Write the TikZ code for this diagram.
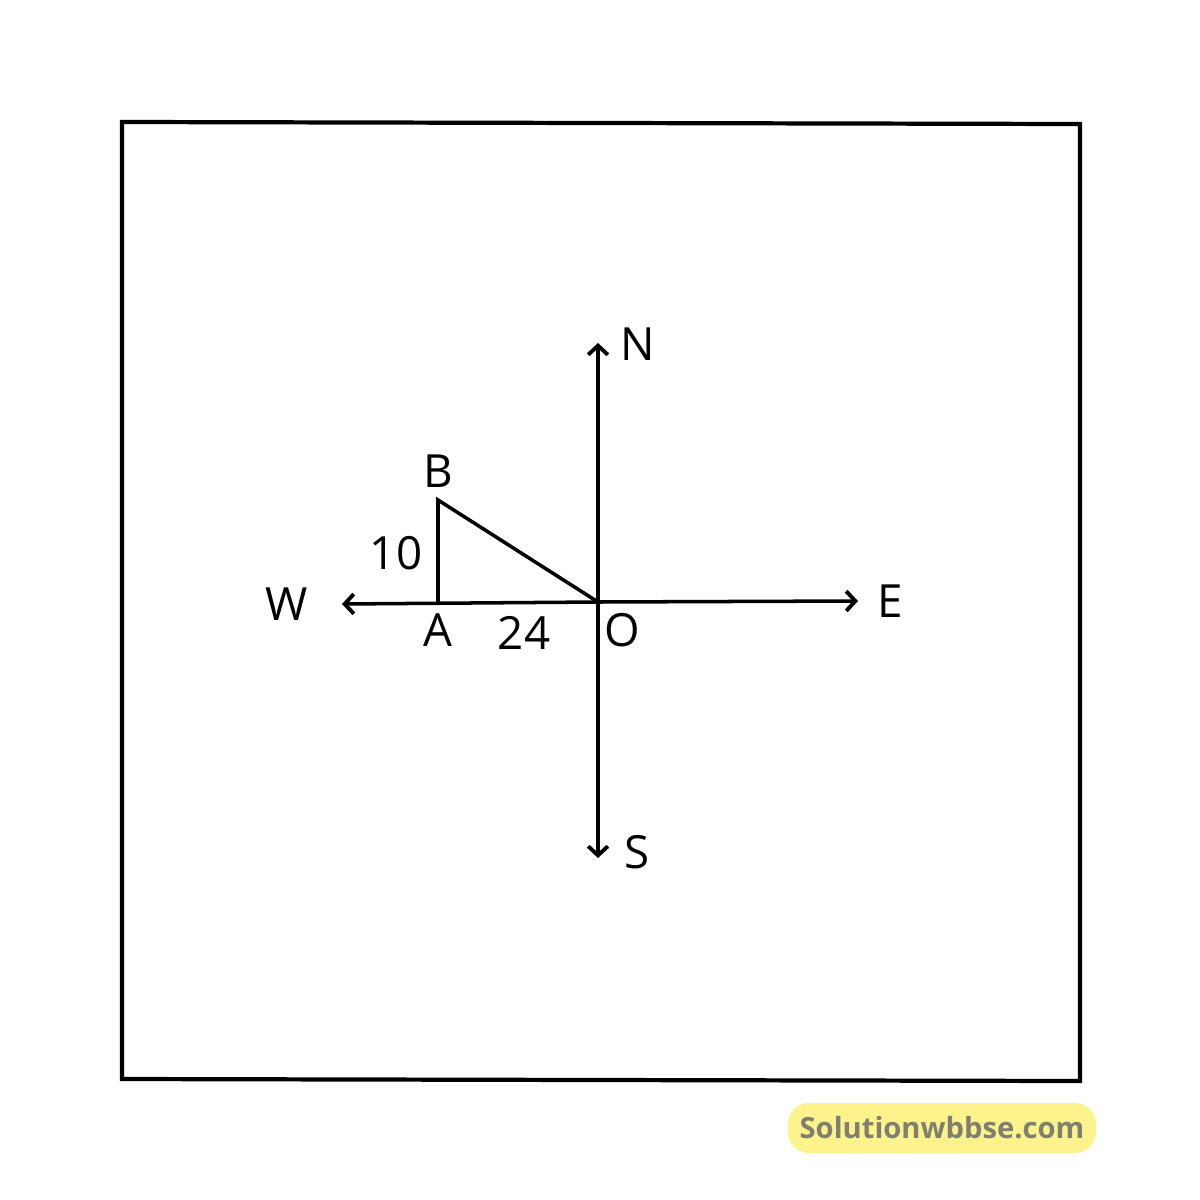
\documentclass[tikz,border=0pt]{standalone}
\usepackage{fontspec}
\setmainfont{Open Sans}
\usetikzlibrary{arrows.meta}
\usepackage{xcolor}
\definecolor{markbg}{RGB}{252,243,140}
\definecolor{marktext}{RGB}{128,128,112}

\begin{document}
\begin{tikzpicture}[x=0.01cm,y=-0.01cm,line width=1pt,
    lbl/.style={font=\fontsize{13}{15}\selectfont},
    dir/.style={-{Straight Barb[length=2.6pt,width=5.6pt,line width=1.1pt]}}]%
    \useasboundingbox (0,0) rectangle (1200,1200);%
    \draw[line width=1.2pt] (122,122) -- (1080,124) -- (1080,1081) -- (122,1079) -- cycle;%
    \coordinate (O) at (598,602);%
    \coordinate (Ntip) at (598,343);%
    \coordinate (Stip) at (598,858);%
    \coordinate (Etip) at (858,601);%
    \coordinate (Wtip) at (342,604);%
    \coordinate (A) at (438,603);%
    \coordinate (B) at (438,500);%
    \draw[dir] (O) -- (Ntip);%
    \draw[dir] (O) -- (Stip);%
    \draw[dir] (O) -- (Etip);%
    \draw[dir] (O) -- (Wtip);%
    \draw (A) -- (B) -- (O);%
    \node[lbl] (n) at (638,344) {N};%
    \node[lbl] (s) at (637,852) {S};%
    \node[lbl] (e) at (890,601) {E};%
    \node[lbl] (w) at (287,604) {W};%
    \node[lbl] (b) at (438,471) {B};%
    \node[lbl] (a) at (438,630) {A};%
    \node[lbl] (o) at (622,630) {O};%
    \node[lbl] (ab) at (396,553) {10};%
    \node[lbl] (ao) at (524,633) {24};%
    \node[fill=markbg,rounded corners=6pt,minimum width=2.96cm,minimum height=0.5cm,
      text=marktext,font=\bfseries\fontsize{8.3}{10}\selectfont] (site) at (942,1128) {Solutionwbbse.com};%
\end{tikzpicture}
\end{document}
